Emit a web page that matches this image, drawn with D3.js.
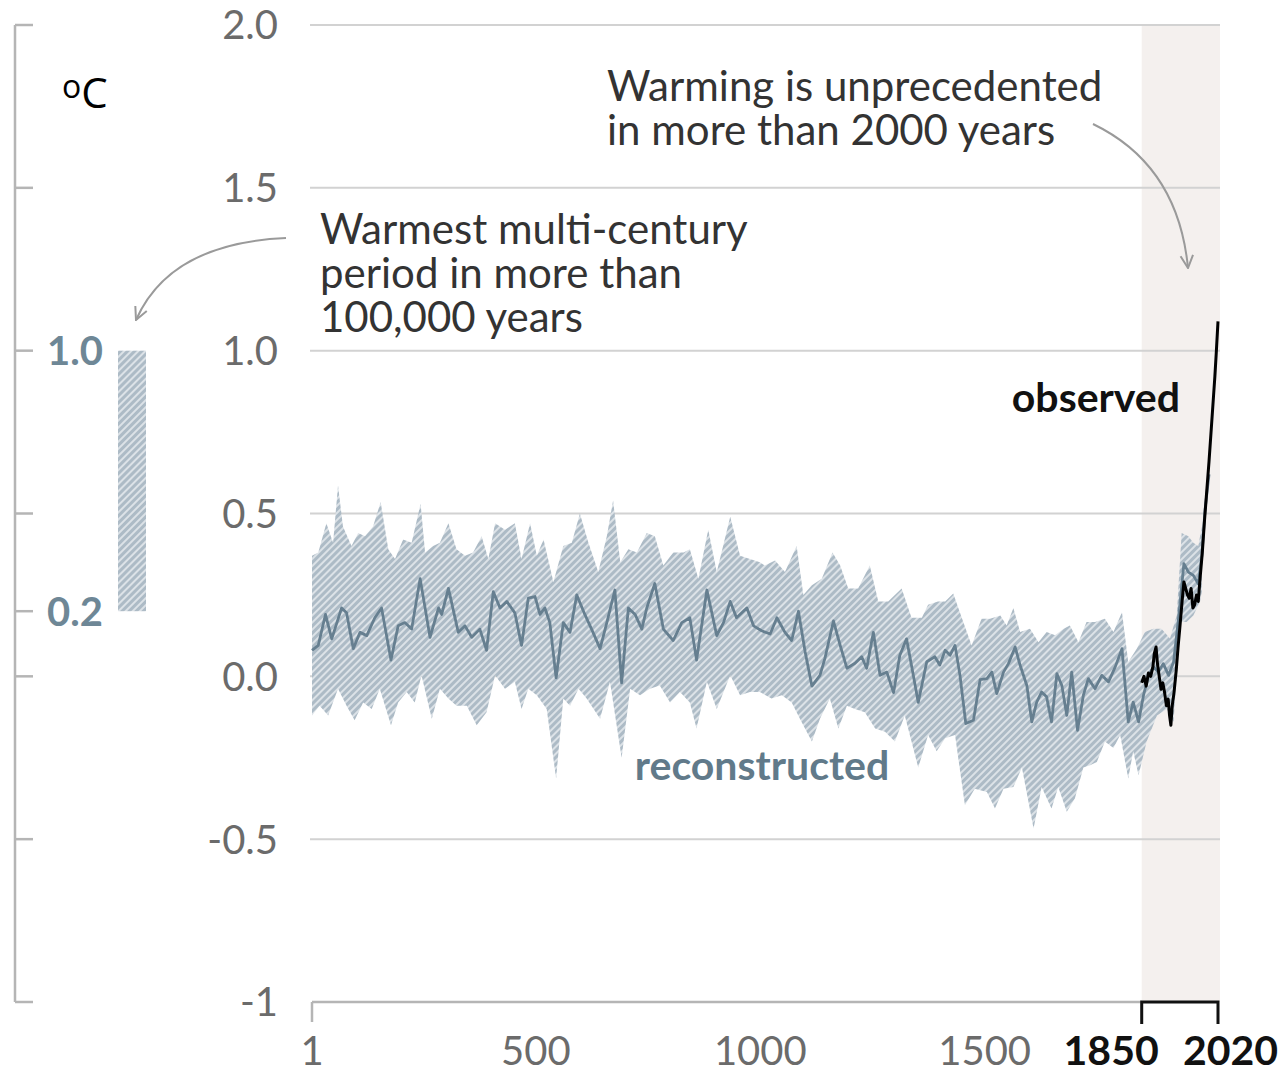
<!DOCTYPE html>
<html><head><meta charset="utf-8">
<script src="https://cdn.jsdelivr.net/npm/d3@7"></script>
<style>
html,body{margin:0;padding:0;background:#fff;}
svg{display:block;font-family:Lato, "Open Sans", sans-serif;}
</style></head>
<body><svg id="chart" width="1283" height="1071"></svg>
<script>
// ---- data ----
const yTicks = [2.0, 1.5, 1.0, 0.5, 0.0, -0.5, -1];
const yTickLabels = ["2.0", "1.5", "1.0", "0.5", "0.0", "-0.5", "-1"];
const xTicks = [1, 500, 1000, 1500];
const xTickLabels = ["1", "500", "1000", "1500"];
const recentTicks = [1850, 2020];
const recentLabels = ["1850", "2020"];
const leftTicks = [2.0, 1.5, 1.0, 0.5, 0.2, 0.0, -0.5, -1];
const leftLabelVals = [1.0, 0.2];
const leftLabelText = ["1.0", "0.2"];
const warmRange = [0.2, 1.0];

const medianYears = [1,15,31,45,67,78,93,108,123,141,156,177,193,208,223,242,264,283,290,305,327,342,357,375,390,405,420,435,453,468,483,498,509,520,531,545,561,576,591,609,624,643,658,676,691,706,721,736,747,765,784,806,825,843,858,881,903,918,933,947,970,985,1003,1022,1037,1055,1070,1085,1100,1115,1133,1144,1163,1178,1193,1211,1226,1237,1252,1267,1282,1297,1311,1326,1341,1352,1371,1389,1400,1412,1423,1434,1445,1458,1475,1490,1505,1516,1527,1542,1553,1568,1579,1594,1605,1616,1627,1638,1649,1661,1672,1683,1694,1707,1720,1731,1746,1761,1776,1791,1806,1820,1831,1843,1854,1865,1876,1887,1898,1910,1921,1932,1944,1954,1965,1976,1984,1991,2000];
const medianValues = [0.08,0.095,0.19,0.115,0.21,0.195,0.085,0.135,0.125,0.18,0.21,0.05,0.155,0.165,0.145,0.30,0.12,0.21,0.19,0.27,0.135,0.155,0.12,0.145,0.08,0.26,0.21,0.23,0.195,0.095,0.24,0.245,0.19,0.21,0.165,-0.005,0.165,0.135,0.25,0.19,0.145,0.085,0.165,0.265,-0.02,0.21,0.19,0.145,0.21,0.285,0.145,0.11,0.165,0.18,0.05,0.265,0.125,0.165,0.23,0.18,0.21,0.155,0.14,0.13,0.18,0.135,0.11,0.20,0.075,-0.03,0.003,0.055,0.17,0.095,0.025,0.04,0.06,0.025,0.135,0.003,0.013,-0.05,0.065,0.115,0.003,-0.08,0.045,0.06,0.035,0.08,0.065,0.095,0.003,-0.145,-0.135,-0.01,-0.007,0.013,-0.053,0.013,0.039,0.09,0.034,-0.028,-0.14,-0.079,-0.048,-0.063,-0.14,0.008,-0.028,-0.12,0.013,-0.166,-0.058,-0.007,-0.038,0.003,-0.017,0.029,0.085,-0.14,-0.079,-0.14,-0.058,0.003,0.029,0.013,0.039,0.003,0.044,0.177,0.346,0.32,0.31,0.284,0.37,0.51,0.62];

const upperYears = [1,15,33,48,59,70,89,104,119,137,154,171,186,204,223,243,253,271,286,305,323,342,360,379,394,409,431,453,468,487,502,517,539,561,580,598,617,639,658,672,688,706,725,747,765,784,806,829,843,862,884,903,933,955,977,999,1010,1033,1055,1081,1096,1115,1137,1161,1178,1196,1218,1244,1263,1285,1315,1337,1360,1374,1396,1412,1430,1449,1471,1493,1512,1535,1549,1564,1579,1601,1620,1638,1657,1676,1690,1709,1727,1746,1768,1787,1806,1820,1839,1857,1876,1894,1913,1928,1939,1954,1965,1976,1984];
const upperValues = [0.37,0.38,0.47,0.41,0.586,0.46,0.40,0.44,0.43,0.46,0.535,0.39,0.36,0.42,0.41,0.53,0.38,0.40,0.41,0.47,0.39,0.37,0.38,0.43,0.36,0.47,0.45,0.47,0.36,0.47,0.37,0.42,0.29,0.40,0.41,0.50,0.41,0.32,0.43,0.54,0.35,0.39,0.38,0.44,0.43,0.34,0.38,0.38,0.39,0.30,0.45,0.32,0.49,0.37,0.36,0.35,0.34,0.356,0.32,0.40,0.25,0.28,0.30,0.38,0.34,0.27,0.27,0.34,0.23,0.23,0.27,0.18,0.18,0.22,0.23,0.23,0.254,0.18,0.095,0.177,0.177,0.187,0.156,0.21,0.136,0.146,0.105,0.136,0.126,0.146,0.156,0.105,0.167,0.167,0.177,0.136,0.197,0.044,0.085,0.136,0.146,0.146,0.116,0.187,0.44,0.43,0.41,0.40,0.46];

const lowerYears = [1,18,37,59,78,96,115,134,152,177,193,212,230,245,268,286,305,323,346,368,390,409,431,453,468,483,502,524,545,561,576,595,613,643,665,691,710,732,754,776,799,821,843,858,881,903,933,955,977,999,1025,1048,1070,1092,1115,1133,1155,1174,1193,1211,1233,1256,1278,1300,1322,1352,1374,1393,1412,1434,1456,1478,1505,1523,1542,1564,1583,1609,1627,1649,1664,1683,1701,1720,1735,1750,1768,1787,1802,1820,1831,1843,1861,1884,1906,1921,1935,1950,1965,1980,1984];
const lowerValues = [-0.12,-0.09,-0.12,-0.038,-0.09,-0.135,-0.08,-0.1,-0.038,-0.15,-0.08,-0.048,-0.08,0.003,-0.13,-0.038,-0.068,-0.09,-0.09,-0.15,-0.11,0.003,-0.038,-0.017,-0.1,-0.038,-0.058,-0.1,-0.314,-0.068,-0.09,-0.038,-0.068,-0.13,-0.017,-0.25,-0.038,-0.058,-0.038,-0.028,-0.08,-0.048,-0.08,-0.16,-0.017,-0.1,0.003,-0.058,-0.048,-0.048,-0.068,-0.058,-0.08,-0.14,-0.2,-0.13,-0.068,-0.16,-0.09,-0.1,-0.11,-0.16,-0.17,-0.2,-0.12,-0.28,-0.18,-0.23,-0.19,-0.18,-0.396,-0.345,-0.355,-0.406,-0.345,-0.34,-0.28,-0.467,-0.34,-0.406,-0.34,-0.416,-0.375,-0.28,-0.273,-0.263,-0.2,-0.22,-0.18,-0.314,-0.23,-0.304,-0.2,-0.12,-0.1,-0.14,0.167,0.167,0.187,0.23,0.26];

const obsYears = [1850,1855,1860,1865,1870,1875,1878,1882,1885,1889,1893,1897,1901,1905,1909,1912,1915,1918,1922,1927,1931,1935,1940,1944,1948,1952,1956,1960,1964,1968,1972,1976,1980,1985,1990,1995,2000,2005,2010,2013,2016,2020];
const obsValues = [-0.02,0.0,-0.03,0.01,0.0,0.03,0.07,0.09,0.04,0.0,-0.04,-0.02,-0.05,-0.09,-0.07,-0.12,-0.15,-0.09,-0.05,0.02,0.09,0.15,0.23,0.29,0.27,0.25,0.24,0.27,0.21,0.22,0.25,0.23,0.30,0.38,0.48,0.57,0.66,0.76,0.86,0.92,0.99,1.09];

// ---- drawing ----
const svg = d3.select("#chart");
const x = d3.scaleLinear().domain([1, 2020]).range([312, 1218]);
const y = d3.scaleLinear().domain([-1, 2]).range([1002, 25]);

const defs = svg.append("defs");
const pat = defs.append("pattern").attr("id", "hatch").attr("patternUnits", "userSpaceOnUse")
  .attr("width", 5).attr("height", 5).attr("patternTransform", "rotate(45)");
pat.append("rect").attr("width", 5).attr("height", 5).attr("fill", "#adbbc6");
pat.append("line").attr("x1", 1).attr("x2", 1).attr("y1", 0).attr("y2", 5)
  .attr("stroke", "#e8ecf0").attr("stroke-width", 1.6);

const mk = defs.append("marker").attr("id", "arrow").attr("viewBox", "0 0 12 12")
  .attr("refX", 11).attr("refY", 6).attr("markerWidth", 15).attr("markerHeight", 15)
  .attr("markerUnits", "userSpaceOnUse").attr("orient", "auto");
mk.append("path").attr("d", "M1,1 L11,6 L1,11").attr("fill", "none").attr("stroke", "#9a9a9a").attr("stroke-width", 1.6);

// shaded recent period
svg.append("rect").attr("x", x(1850)).attr("y", y(2)).attr("width", x(2020) - x(1850) + 2)
  .attr("height", y(-1) - y(2)).attr("fill", "#f4f0ee");

// gridlines
svg.append("g").selectAll("line").data(yTicks.filter(d => d > -1)).join("line")
  .attr("x1", x(1) - 2).attr("x2", x(2020) + 2).attr("y1", d => y(d)).attr("y2", d => y(d))
  .attr("stroke", "#d2d2d2").attr("stroke-width", 2);

// main y labels
svg.append("g").selectAll("text").data(yTicks).join("text")
  .attr("x", 278).attr("y", d => y(d)).attr("dy", "0.36em").attr("text-anchor", "end")
  .attr("font-size", 40).attr("fill", "#6b6b6b").text((d, i) => yTickLabels[i]);

// x axis line
svg.append("line").attr("x1", x(1)).attr("x2", x(1850)).attr("y1", y(-1)).attr("y2", y(-1))
  .attr("stroke", "#b5b5b5").attr("stroke-width", 2.5);
svg.append("line").attr("x1", x(1)).attr("x2", x(1)).attr("y1", y(-1)).attr("y2", y(-1) + 20)
  .attr("stroke", "#b5b5b5").attr("stroke-width", 2.5);
svg.append("g").selectAll("text").data(xTicks).join("text")
  .attr("x", d => x(d)).attr("y", 1065).attr("text-anchor", "middle")
  .attr("font-size", 40).attr("fill", "#6b6b6b").text((d, i) => xTickLabels[i]);

// bracket for 1850-2020
const br = d3.path();
br.moveTo(x(1850), y(-1) + 22); br.lineTo(x(1850), y(-1)); br.lineTo(x(2020), y(-1)); br.lineTo(x(2020), y(-1) + 22);
svg.append("path").attr("d", br.toString()).attr("fill", "none").attr("stroke", "#111").attr("stroke-width", 3);
svg.append("g").selectAll("text").data(recentTicks).join("text")
  .attr("x", (d, i) => i === 0 ? x(d) + 17 : x(d) - 35)
  .attr("text-anchor", (d, i) => i === 0 ? "end" : "start")
  .attr("y", 1065).attr("font-size", 41).attr("font-weight", "bold").attr("fill", "#111")
  .text((d, i) => recentLabels[i]);

// left axis
svg.append("line").attr("x1", 15).attr("x2", 15).attr("y1", y(2)).attr("y2", y(-1))
  .attr("stroke", "#b5b5b5").attr("stroke-width", 2.5);
svg.append("g").selectAll("line").data(leftTicks).join("line")
  .attr("x1", 15).attr("x2", 33).attr("y1", d => y(d)).attr("y2", d => y(d))
  .attr("stroke", "#b5b5b5").attr("stroke-width", 2.5);
svg.append("g").selectAll("text").data(leftLabelVals).join("text")
  .attr("x", 47).attr("y", d => y(d)).attr("dy", "0.36em")
  .attr("font-size", 40).attr("font-weight", "bold").attr("fill", "#6e8796").text((d, i) => leftLabelText[i]);
svg.append("rect").attr("x", 118).attr("width", 28).attr("y", y(warmRange[1]))
  .attr("height", y(warmRange[0]) - y(warmRange[1])).attr("fill", "url(#hatch)");

// unit
const unit = svg.append("text").attr("x", 62).attr("y", 108).attr("font-family", "'Open Sans', 'Noto Sans', sans-serif")
  .attr("font-size", 42).attr("fill", "#000");
unit.append("tspan").attr("font-size", 32).attr("dy", -10).text("o");
unit.append("tspan").attr("dy", 10).text("C");

// uncertainty band
const upperPts = upperYears.map((yr, i) => [yr, upperValues[i]]);
const lowerPts = lowerYears.map((yr, i) => [yr, lowerValues[i]]);
const poly = upperPts.concat(lowerPts.slice().reverse());
svg.append("path").datum(poly)
  .attr("d", d3.line().x(d => x(d[0])).y(d => y(d[1])).curve(d3.curveLinear)(poly) + "Z")
  .attr("fill", "url(#hatch)").attr("stroke", "none");

// median reconstructed
const med = medianYears.map((yr, i) => [yr, medianValues[i]]);
svg.append("path").datum(med)
  .attr("d", d3.line().x(d => x(d[0])).y(d => y(d[1])))
  .attr("fill", "none").attr("stroke", "#667f90").attr("stroke-width", 2.8).attr("stroke-linejoin", "round");

// observed
const obs = obsYears.map((yr, i) => [yr, obsValues[i]]);
svg.append("path").datum(obs)
  .attr("d", d3.line().x(d => x(d[0])).y(d => y(d[1])))
  .attr("fill", "none").attr("stroke", "#000").attr("stroke-width", 3).attr("stroke-linejoin", "round");

// labels
svg.append("text").attr("x", 762).attr("y", 780).attr("text-anchor", "middle")
  .attr("font-size", 41).attr("font-weight", "bold").attr("fill", "#617a8a").text("reconstructed");
svg.append("text").attr("x", 1180).attr("y", 412).attr("text-anchor", "end")
  .attr("font-size", 41).attr("font-weight", "bold").attr("fill", "#111").text("observed");

const ann1 = svg.append("text").attr("x", 607).attr("font-size", 42).attr("fill", "#333");
ann1.append("tspan").attr("x", 607).attr("y", 101).text("Warming is unprecedented");
ann1.append("tspan").attr("x", 607).attr("y", 145).text("in more than 2000 years");
const ann2 = svg.append("text").attr("x", 320).attr("font-size", 42).attr("fill", "#333");
ann2.append("tspan").attr("x", 320).attr("y", 244).text("Warmest multi-century");
ann2.append("tspan").attr("x", 320).attr("y", 288).text("period in more than");
ann2.append("tspan").attr("x", 320).attr("y", 332).text("100,000 years");

// arrows
svg.append("path").attr("d", "M1093,124 Q1178,165 1188,268").attr("fill", "none")
  .attr("stroke", "#9a9a9a").attr("stroke-width", 2).attr("marker-end", "url(#arrow)");
svg.append("path").attr("d", "M286,238 Q170,243 136,320").attr("fill", "none")
  .attr("stroke", "#9a9a9a").attr("stroke-width", 2).attr("marker-end", "url(#arrow)");
</script></body></html>
